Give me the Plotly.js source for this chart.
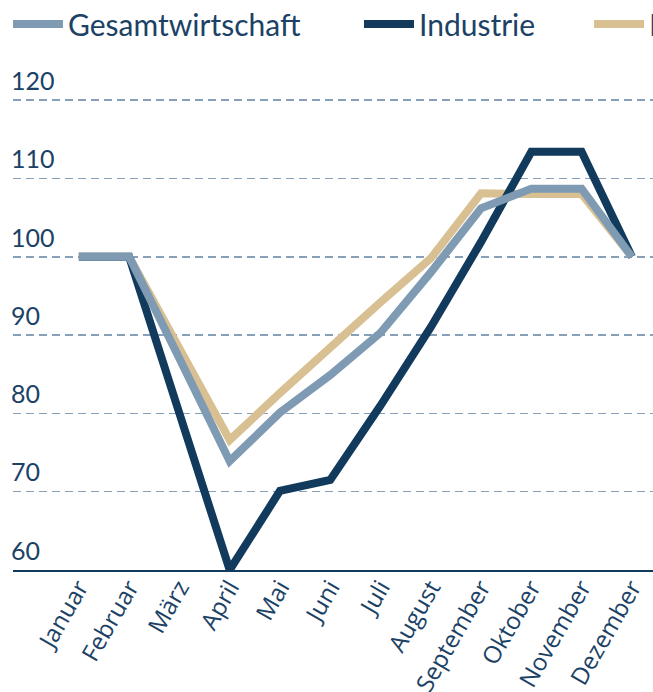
<!DOCTYPE html>
<html>
<head>
<meta charset="utf-8">
<script src="https://cdn.plot.ly/plotly-3.0.1.min.js"></script>
<style>html,body{margin:0;padding:0;background:#fff;}#chart{width:653px;height:692px;}</style>
</head>
<body>
<div id="chart"></div>
<script>
var months = ['Januar','Februar','März','April','Mai','Juni','Juli','August','September','Oktober','November','Dezember'];
var gesamtwirtschaft = [100, 100, 87, 73.9, 80.1, 84.9, 90.3, 98, 106.2, 108.7, 108.7, 100];
var industrie = [100, 100, 80, 60, 70.1, 71.5, 81, 91, 101.9, 113.4, 113.4, 100];
var dritteReihe = [100, 100, 88.3, 76.6, 82.6, 88.5, 94.2, 99.8, 108.1, 108, 108, 100];
var seriesNames = ['Gesamtwirtschaft', 'Industrie', 'Dienstleistungen'];
var yTicks = [60, 70, 80, 90, 100, 110, 120];

var navy = '#113a5d';
var greyBlue = '#7f9ab3';
var tan = '#d9c093';
var textCol = '#1b4266';

var traces = [
  {x: months, y: dritteReihe, name: seriesNames[2], type: 'scatter', mode: 'lines',
   line: {color: tan, width: 8}, legend: 'legend3'},
  {x: months, y: industrie, name: seriesNames[1], type: 'scatter', mode: 'lines',
   line: {color: navy, width: 8}, legend: 'legend2'},
  {x: months, y: gesamtwirtschaft, name: seriesNames[0], type: 'scatter', mode: 'lines',
   line: {color: greyBlue, width: 8}, legend: 'legend'}
];

var legFont = {family: 'Lato, sans-serif', size: 30, color: textCol};
function leg(x) {
  return {orientation: 'h', x: x, xanchor: 'left', y: 1.0727, yanchor: 'middle',
          font: legFont, bgcolor: 'rgba(0,0,0,0)', borderwidth: 0, itemwidth: 50};
}

var layout = {
  width: 653, height: 692,
  margin: {l: 13, r: 0, t: 61, b: 122, autoexpand: false},
  paper_bgcolor: '#ffffff', plot_bgcolor: '#ffffff',
  showlegend: true,
  legend: leg(-0.0078),
  legend2: leg(0.5406),
  legend3: leg(0.900),
  xaxis: {
    type: 'category', range: [-1.31, 11.42], showgrid: false, zeroline: false,
    showline: true, linecolor: navy, linewidth: 2, ticks: '',
    ticklabelstandoff: -8,
    tickangle: -60, tickfont: {family: 'Open Sans, sans-serif', size: 24, color: textCol}
  },
  yaxis: {
    range: [60, 125], tickvals: yTicks, ticktext: yTicks.map(String),
    showgrid: true, gridcolor: '#86a0b9', gridwidth: 1.5, griddash: '8px,5px',
    zeroline: false, showline: false, ticks: '',
    ticklabelposition: 'inside', ticklabelshift: -19, ticklabelstandoff: -5,
    tickfont: {family: 'Lato, sans-serif', size: 25, color: textCol}
  },
  hovermode: false
};

Plotly.newPlot('chart', traces, layout, {staticPlot: true, displayModeBar: false});
</script>
</body>
</html>
